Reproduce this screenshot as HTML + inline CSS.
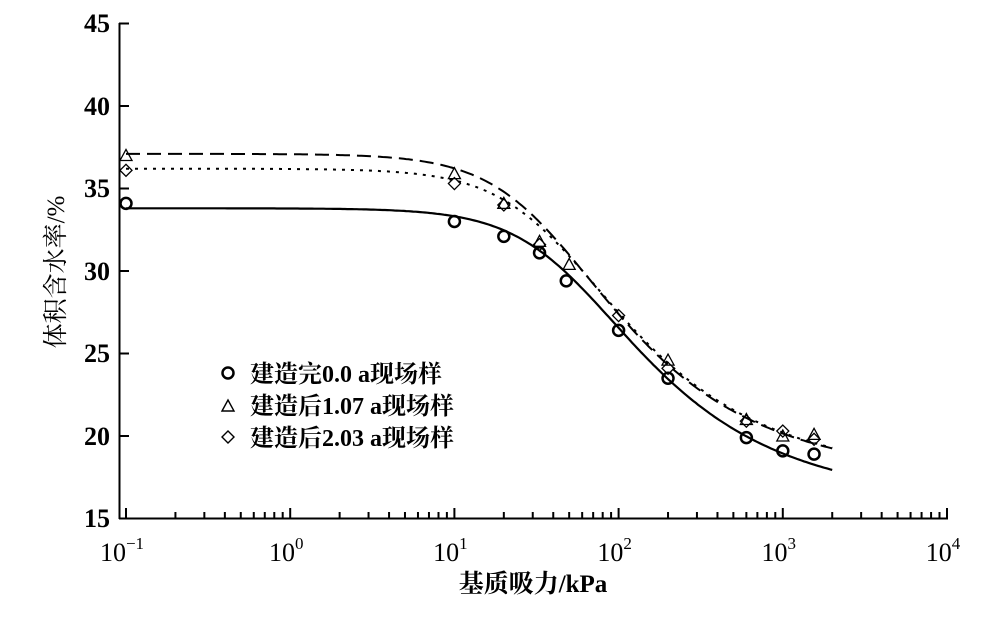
<!DOCTYPE html>
<html><head><meta charset="utf-8"><style>
body{margin:0;background:#fff;}
svg{display:block;}
text{font-family:"Liberation Serif","Noto Serif CJK SC",serif;fill:#000;}
</style></head><body>
<svg id="s" width="995" height="618" viewBox="0 0 995 618" xmlns="http://www.w3.org/2000/svg">
<g id="ax" stroke="#000" stroke-width="2" fill="none">
<line x1="119.5" y1="23" x2="119.5" y2="519"/>
<line x1="119" y1="518.5" x2="948" y2="518.5"/>
</g>
<g font-size="26" text-anchor="end" font-weight="bold">
<text x="110" y="32">45</text>
<text x="110" y="115">40</text>
<text x="110" y="197">35</text>
<text x="110" y="280">30</text>
<text x="110" y="362">25</text>
<text x="110" y="445">20</text>
<text x="110" y="527">15</text>
</g>
<g font-size="26" text-anchor="middle" id="xl"></g>
<text x="533" y="592" font-size="25" font-weight="bold" text-anchor="middle">基质吸力/kPa</text>
<text transform="translate(64,272) rotate(-90)" font-size="25" text-anchor="middle">体积含水率/%</text>
<g id="curves" fill="none" stroke="#000"></g>
<g id="pts" fill="none" stroke="#000" stroke-width="1.6"></g>
<g font-size="24" font-weight="bold">
<circle cx="228" cy="373" r="5.5" fill="none" stroke="#000" stroke-width="2.5"/>
<text x="250" y="382">建造完0.0 a现场样</text>
<path d="M222,411 L228,400 L234,411 Z" fill="none" stroke="#000" stroke-width="1.4"/>
<text x="250" y="414">建造后1.07 a现场样</text>
<path d="M228,431 L234,437 L228,443 L222,437 Z" fill="none" stroke="#000" stroke-width="1.4"/>
<text x="250" y="446">建造后2.03 a现场样</text>
</g>
</svg>
<script>
var NS="http://www.w3.org/2000/svg";
var x0=126,dec=164.2,yb=518.5,py=16.5;
function X(h){return x0+(Math.log10(h)+1)*dec;}
function Y(v){return yb-(v-15)*py;}
function el(t,a,p){var e=document.createElementNS(NS,t);for(var k in a)e.setAttribute(k,a[k]);p.appendChild(e);return e;}
var ax=document.getElementById('ax');
for(var d=-1;d<4;d++){for(var k=1;k<10;k++){var h=k*Math.pow(10,d);var x=X(h);el('line',{x1:x,y1:518,x2:x,y2:k==1?508:512},ax);}}
el('line',{x1:X(1e4),y1:518,x2:X(1e4),y2:508},ax);
[45,40,35,30,25,20,15].forEach(function(v){el('line',{x1:119,y1:Y(v),x2:129,y2:Y(v)},ax);});
var xl=document.getElementById('xl');
for(var d=-1;d<=4;d++){var t=el('text',{x:X(Math.pow(10,d))-4,y:561},xl);t.textContent='10';var s=el('tspan',{dy:-12,'font-size':17},t);s.textContent=(d<0?'\u2212':'')+Math.abs(d);}
function vg(h,ts,tr,a,n){var m=1-1/n;return tr+(ts-tr)/Math.pow(1+Math.pow(a*h,n),m);}
var cv=document.getElementById('curves');
function curve(ts,tr,a,n,attrs){var p='';for(var i=0;i<=300;i++){var lg=-1+i*(Math.log10(2000)+1)/300;var h=Math.pow(10,lg);p+=(i?'L':'M')+X(h).toFixed(1)+','+Y(vg(h,ts,tr,a,n)).toFixed(1);}attrs.d=p;el('path',attrs,cv);}
curve(33.8,16.0,0.02,1.6,{'stroke-width':2.2});
curve(37.1,17.5,0.028,1.6,{'stroke-width':2,'stroke-dasharray':'14,7'});
curve(36.2,17.5,0.025,1.6,{'stroke-width':2,'stroke-dasharray':'3,6'});
var pg=document.getElementById('pts');
[[0.1,34.1],[10,33],[20,32.1],[33,31.1],[48,29.4],[100,26.4],[200,23.5],[600,19.9],[1000,19.1],[1550,18.9]].forEach(function(p){el('circle',{cx:X(p[0]),cy:Y(p[1]),r:5.5,'stroke-width':2.5},pg);});
[[0.1,37],[10,35.9],[20,34.1],[33,31.8],[50,30.4],[200,24.6],[600,21],[1000,20],[1550,20.1]].forEach(function(p){var x=X(p[0]),y=Y(p[1]);el('path',{d:'M'+(x-6)+','+(y+5)+'L'+x+','+(y-6)+'L'+(x+6)+','+(y+5)+'Z','stroke-width':1.3},pg);});
[[0.1,36.1],[10,35.3],[20,34],[33,31.6],[100,27.3],[200,24.1],[600,20.9],[1000,20.3],[1550,19.8]].forEach(function(p){var x=X(p[0]),y=Y(p[1]);el('path',{d:'M'+x+','+(y-6)+'L'+(x+6)+','+y+'L'+x+','+(y+6)+'L'+(x-6)+','+y+'Z','stroke-width':1.3},pg);});
</script>
</body></html>
